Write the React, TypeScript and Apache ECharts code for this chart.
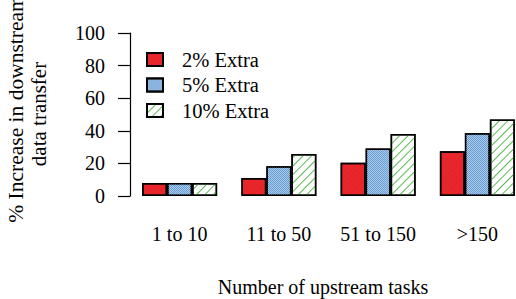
import React, { useEffect, useRef } from "react";
import * as echarts from "echarts";

const categories = ["1 to 10", "11 to 50", "51 to 150", ">150"];
const extra2 = [8, 11, 20.4, 27.4];
const extra5 = [8, 18.3, 29.2, 38.5];
const extra10 = [8, 25.7, 38, 47];
const yTicks = { min: 0, max: 100, interval: 20 };
const seriesNames = ["2% Extra", "5% Extra", "10% Extra"];

const FONT = "Liberation Serif";

export default function App() {
  const ref = useRef<HTMLDivElement>(null);
  useEffect(() => {
    if (!ref.current) return;
    const chart = echarts.init(ref.current, null, { renderer: "svg" });
    const border = { borderColor: "#000", borderWidth: 1.5 };
    chart.setOption({
      animation: false,
      backgroundColor: "#fff",
      grid: {
        left: 130,
        width: 397,
        top: 33,
        height: 163,
        containLabel: false,
        outerBoundsMode: "none",
      },
      legend: {
        orient: "vertical",
        left: 146,
        top: 49,
        padding: 0,
        icon: "rect",
        itemWidth: 16,
        itemHeight: 13,
        itemGap: 4.5,
        data: seriesNames,
        textStyle: {
          fontFamily: FONT,
          fontSize: 20.5,
          color: "#000",
          lineHeight: 21,
          padding: [0, 0, 0, 14],
        },
      },
      xAxis: {
        type: "category",
        data: categories,
        axisLine: { show: false },
        axisTick: { show: false },
        axisLabel: { interval: 0, fontFamily: FONT, fontSize: 20, color: "#000", margin: 28 },
      },
      yAxis: {
        type: "value",
        min: yTicks.min,
        max: yTicks.max,
        interval: yTicks.interval,
        splitLine: { show: false },
        axisLine: { show: true, lineStyle: { color: "#000", width: 1.2 } },
        axisTick: { show: true, length: 12, lineStyle: { color: "#000", width: 1.2 } },
        axisLabel: { fontFamily: FONT, fontSize: 20, color: "#000", margin: 25 },
      },
      graphic: [
        {
          type: "text",
          x: 16,
          y: 109,
          rotation: Math.PI / 2,
          style: {
            text: "% Increase in downstream",
            fontFamily: FONT,
            fontSize: 21.5,
            fill: "#000",
            textAlign: "center",
            textVerticalAlign: "middle",
          },
        },
        {
          type: "text",
          x: 39,
          y: 114,
          rotation: Math.PI / 2,
          style: {
            text: "data transfer",
            fontFamily: FONT,
            fontSize: 21,
            fill: "#000",
            textAlign: "center",
            textVerticalAlign: "middle",
          },
        },
        {
          type: "text",
          x: 323,
          y: 287,
          style: {
            text: "Number of upstream tasks",
            fontFamily: FONT,
            fontSize: 20,
            fill: "#000",
            textAlign: "center",
            textVerticalAlign: "middle",
          },
        },
      ],
      series: [
        {
          name: seriesNames[0],
          type: "bar",
          data: extra2,
          barWidth: 25,
          barGap: "0%",
          itemStyle: {
            color: "#e8262b",
            ...border,
            decal: {
              symbol: "rect",
              symbolSize: 1,
              color: "rgba(120,0,0,0.06)",
              dashArrayX: [1, 0],
              dashArrayY: [1, 3],
              rotation: -Math.PI / 4,
            },
          },
        },
        {
          name: seriesNames[1],
          type: "bar",
          data: extra5,
          barWidth: 25,
          barGap: "0%",
          itemStyle: {
            color: "#6b9fd3",
            ...border,
            decal: {
              symbol: "rect",
              symbolSize: 1,
              color: "#a9c9ea",
              dashArrayX: [[1, 1], [0, 1, 1, 0]],
              dashArrayY: [1, 0],
            },
          },
        },
        {
          name: seriesNames[2],
          type: "bar",
          data: extra10,
          barWidth: 25,
          barGap: "0%",
          itemStyle: {
            color: "#ffffff",
            ...border,
            decal: {
              symbol: "rect",
              symbolSize: 1,
              color: "#5cb853",
              dashArrayX: [1, 0],
              dashArrayY: [0.8, 4.2],
              rotation: -Math.PI / 4,
            },
          },
        },
      ],
    });
    return () => chart.dispose();
  }, []);
  return (
    <div
      ref={ref}
      style={{ position: "absolute", left: 0, top: 0, width: 516, height: 299 }}
    />
  );
}
